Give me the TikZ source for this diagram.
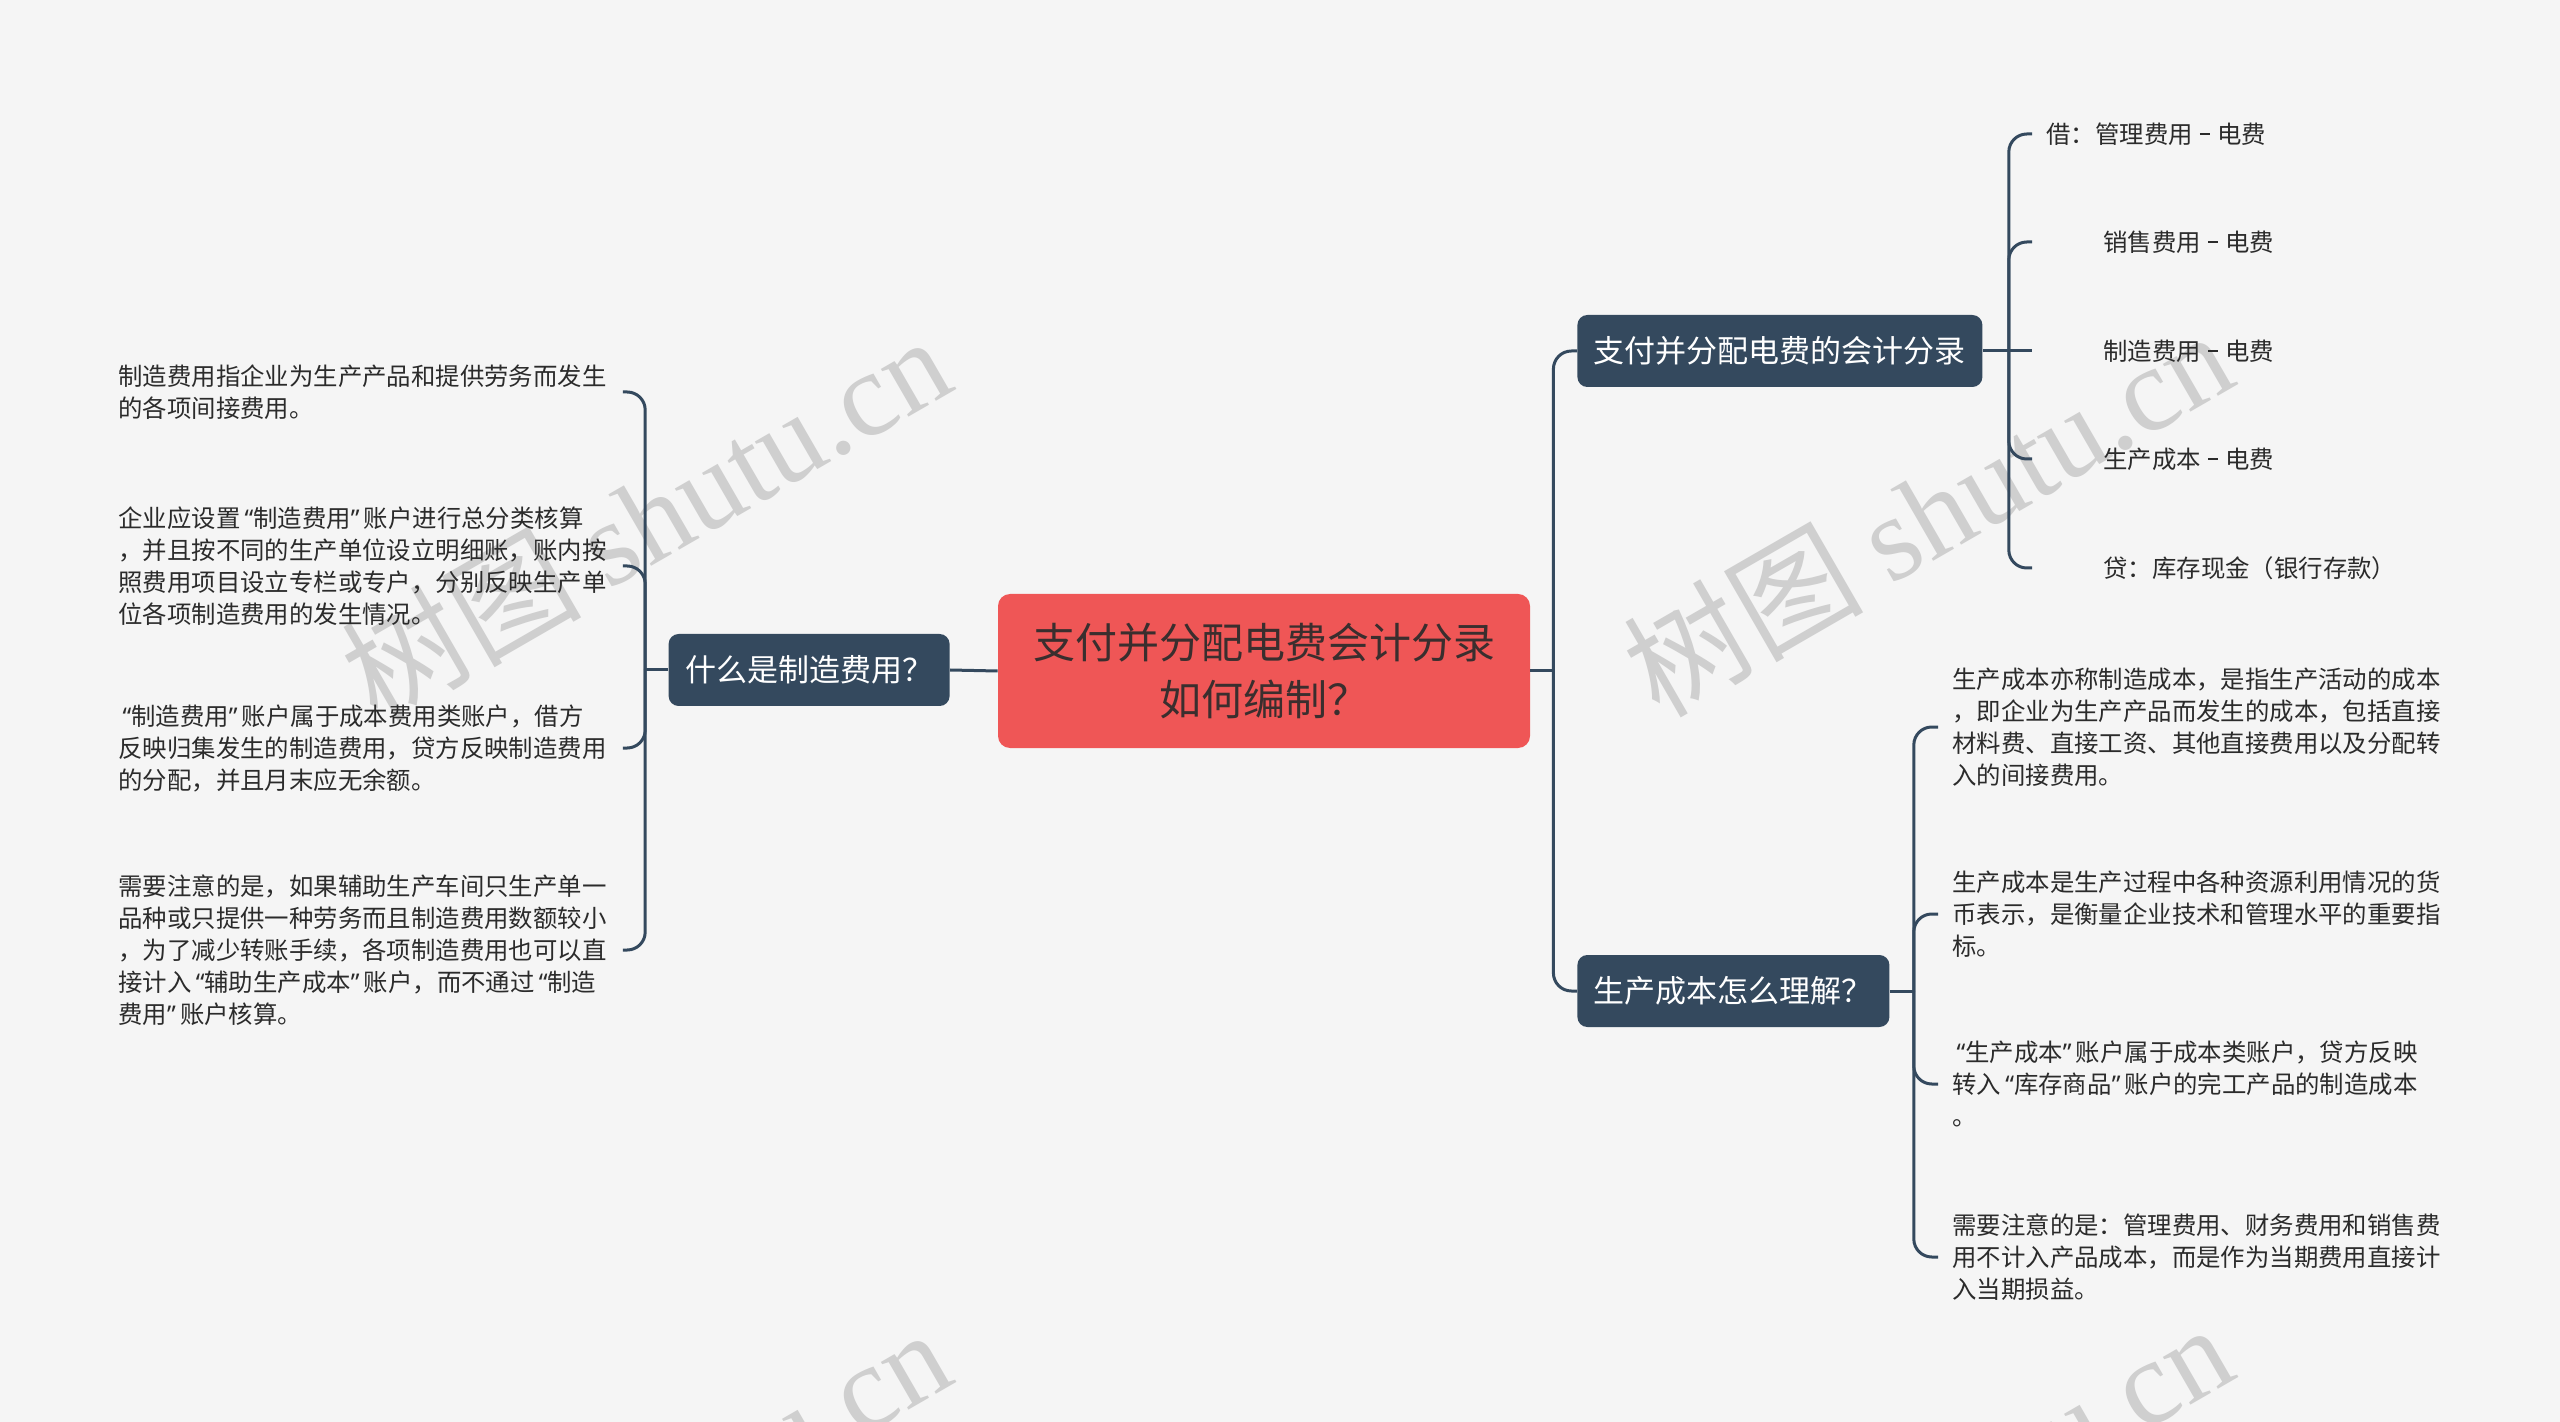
\documentclass[tikz,border=0pt]{standalone}
\usepackage{fontspec}
\setmainfont{Noto Sans CJK SC}
\newfontfamily\wmserif{Liberation Serif}
\newfontfamily\qf{Noto Sans}
\newcommand\oq{\hbox to 0.53em{\hss{\qf “}}}
\newcommand\cq{\hbox to 0.53em{{\qf ”}\hss}}
\newcommand\dsh{\hbox to 1em{\hss\rule[0.33em]{0.42em}{0.075em}\hss}}
\definecolor{bgc}{HTML}{F5F5F5}
\definecolor{dk}{HTML}{34495E}
\definecolor{rootc}{HTML}{EF5656}
\definecolor{roottext}{HTML}{3A2E2E}
\definecolor{leafc}{HTML}{2B2B2B}
\definecolor{wmc}{HTML}{CFCFCF}
\begin{document}
\begin{tikzpicture}[x=0.5pt,y=-0.5pt,
  conn/.style={draw=dk, line width=1.5pt, rounded corners=9pt},
  rootbox/.style={fill=rootc, rounded corners=6pt, text=roottext, font=\fontsize{21pt}{28.5pt}\selectfont, align=center, minimum width=266pt, minimum height=77pt, inner sep=0pt},
  branch/.style={fill=dk, rounded corners=5pt, text=white, font=\fontsize{15.5pt}{18pt}\selectfont, inner xsep=8.25pt, inner ysep=0pt, minimum height=36pt},
  leaf/.style={text=leafc, font=\fontsize{12.2pt}{16pt}\selectfont, align=left, text width=245pt, inner xsep=7pt, inner ysep=2pt, anchor=west},
  item/.style={text=leafc, font=\fontsize{12.2pt}{16pt}\selectfont, inner xsep=7pt, anchor=west},
  wm/.style={text=wmc, rotate=30, font=\fontsize{60pt}{64pt}\selectfont}
]
\useasboundingbox (0,0) rectangle (2560,1422);
\fill[bgc] (0,0) rectangle (2560,1422);

% watermarks
\begin{scope}
\clip (0,0) rectangle (2560,1422);
\node[wm] (w1) at (645,517) {树图 {\wmserif shutu.cn}};
\node[wm] (w2) at (1927,512) {树图 {\wmserif shutu.cn}};
\node[wm] (w3) at (645,1510) {树图 {\wmserif shutu.cn}};
\node[wm] (w4) at (1927,1505) {树图 {\wmserif shutu.cn}};
\end{scope}

% main nodes
\node[rootbox] (root) at (1264,671) {支付并分配电费会计分录\\如何编制？};
\node[branch, anchor=east] (L) at (950,670) {什么是制造费用？};
\node[branch, anchor=west] (R1) at (1577,351) {支付并分配电费的会计分录};
\node[branch, anchor=west] (R2) at (1577,991) {生产成本怎么理解？};

% left leaves
\node[leaf] (l1) at (104,392) {制造费用指企业为生产产品和提供劳务而发生\\的各项间接费用。};
\node[leaf] (l2) at (104,566) {企业应设置\oq 制造费用\cq 账户进行总分类核算\\，并且按不同的生产单位设立明细账，账内按\\照费用项目设立专栏或专户，分别反映生产单\\位各项制造费用的发生情况。};
\node[leaf] (l3) at (104,748) {\oq 制造费用\cq 账户属于成本费用类账户，借方\\反映归集发生的制造费用，贷方反映制造费用\\的分配，并且月末应无余额。};
\node[leaf] (l4) at (104,950) {需要注意的是，如果辅助生产车间只生产单一\\品种或只提供一种劳务而且制造费用数额较小\\，为了减少转账手续，各项制造费用也可以直\\接计入\oq 辅助生产成本\cq 账户，而不通过\oq 制造\\费用\cq 账户核算。};

% right branch 1 items
\node[item] (a1) at (2032,134) {借：管理费用\dsh 电费};
\node[item] (a2) at (2032,242) {\hspace*{28.5pt}销售费用\dsh 电费};
\node[item] (a3) at (2032,351) {\hspace*{28.5pt}制造费用\dsh 电费};
\node[item] (a4) at (2032,459) {\hspace*{28.5pt}生产成本\dsh 电费};
\node[item] (a5) at (2032,568) {\hspace*{28.5pt}贷：库存现金（银行存款）};

% right branch 2 leaves
\node[leaf] (b1) at (1938,727) {生产成本亦称制造成本，是指生产活动的成本\\，即企业为生产产品而发生的成本，包括直接\\材料费、直接工资、其他直接费用以及分配转\\入的间接费用。};
\node[leaf] (b2) at (1938,914) {生产成本是生产过程中各种资源利用情况的货\\币表示，是衡量企业技术和管理水平的重要指\\标。};
\node[leaf] (b3) at (1938,1084) {\oq 生产成本\cq 账户属于成本类账户，贷方反映\\转入\oq 库存商品\cq 账户的完工产品的制造成本\\。};
\node[leaf] (b4) at (1938,1257) {需要注意的是：管理费用、财务费用和销售费\\用不计入产品成本，而是作为当期费用直接计\\入当期损益。};

% connectors
\coordinate (jR) at ([xshift=11.5pt]root.east);
\coordinate (jL) at ([xshift=-11.5pt]L.west);
\coordinate (j1) at ([xshift=13pt]R1.east);
\coordinate (j2) at ([xshift=12pt]R2.east);

\draw[conn] (root.west) -- (L.east);
\draw[conn] (root.east) -- (jR);
\draw[conn] (jR) |- (R1.west);
\draw[conn] (jR) |- (R2.west);

\draw[conn] (L.west) -- (jL);
\foreach \n in {l1,l2,l3,l4} \draw[conn] (jL) |- (\n.east);

\draw[conn] (R1.east) -- (a3.west);
\foreach \n in {a1,a2,a4,a5} \draw[conn] (j1) |- (\n.west);

\draw[conn] (R2.east) -- (j2);
\foreach \n in {b1,b2,b3,b4} \draw[conn] (j2) |- (\n.west);
\end{tikzpicture}
\end{document}
